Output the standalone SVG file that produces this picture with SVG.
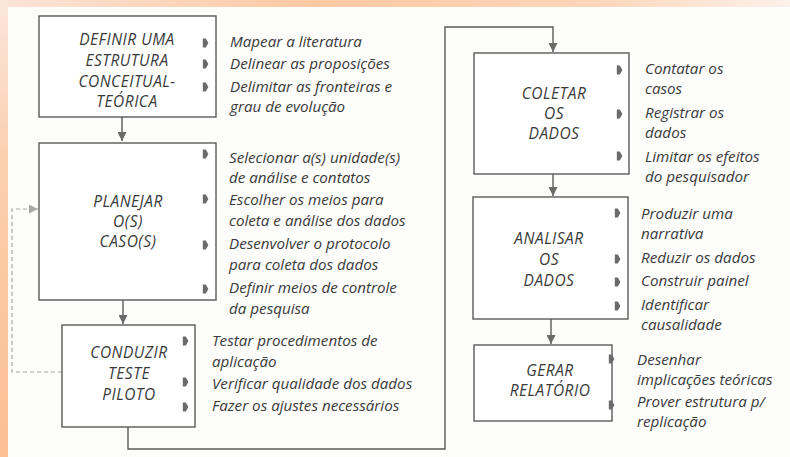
<svg xmlns="http://www.w3.org/2000/svg" width="790" height="457" viewBox="0 0 790 457">
<defs>
<linearGradient id="gTop" x1="0" y1="0" x2="1" y2="0">
<stop offset="0" stop-color="#fbe4d8"/>
<stop offset="0.4" stop-color="#fcc9a2"/>
<stop offset="0.75" stop-color="#fcd6ba"/>
<stop offset="1" stop-color="#fdf1ea"/>
</linearGradient>
<linearGradient id="gLeft" x1="0" y1="0" x2="0" y2="1">
<stop offset="0" stop-color="#fbe6dc"/>
<stop offset="0.35" stop-color="#fbcfae"/>
<stop offset="1" stop-color="#fbbf92"/>
</linearGradient>
<marker id="ah" viewBox="0 0 10 10" refX="10" refY="5" markerWidth="9" markerHeight="9" markerUnits="userSpaceOnUse" orient="auto">
<path d="M0,0 L10,5 L0,10 Z" fill="#6a6a6a"/>
</marker>
<marker id="ahd" viewBox="0 0 10 10" refX="10" refY="5" markerWidth="10" markerHeight="9" markerUnits="userSpaceOnUse" orient="auto">
<path d="M0,0 L10,5 L0,10 Z" fill="#a8a8a8"/>
</marker>
<path id="bul" d="M-2.2,-4.5 L0.8,-4.5 L3.4,0 L0.8,4.5 L-2.2,4.5 Z"/>
</defs>
<style>
.box{fill:#ffffff;stroke:#5a5a5a;stroke-width:1.4}
.lbl{font-family:"Open Sans","Liberation Sans",sans-serif;font-style:italic;font-size:15.5px;letter-spacing:0.5px;fill:#3a3a3a;text-anchor:middle}
.it{font-family:"Open Sans","Liberation Sans",sans-serif;font-style:italic;font-size:15.2px;fill:#3a3a3a}
.b{fill:#6a6a6a}
.con{fill:none;stroke:#5a5a5a;stroke-width:1.4}
.dash{fill:none;stroke:#a8a8a8;stroke-width:1.2;stroke-dasharray:4 3}
</style>
<rect x="0" y="0" width="790" height="457" fill="#fdfdfc"/>
<rect x="0" y="0" width="790" height="7" fill="url(#gTop)"/>
<rect x="0" y="0" width="8" height="457" fill="url(#gLeft)"/>

<g id="connectors">
<path class="con" d="M122,117 V141" marker-end="url(#ah)"/>
<path class="con" d="M123,300 V324" marker-end="url(#ah)"/>
<path class="con" d="M128,427 V449 H445 V27 H553 V52" marker-end="url(#ah)"/>
<path class="con" d="M553,174 V196" marker-end="url(#ah)"/>
<path class="con" d="M551,319 V344" marker-end="url(#ah)"/>
<path class="dash" d="M62,372 H12 V209 H38" marker-end="url(#ahd)"/>
</g>

<g id="definir">
<rect class="box" x="39" y="16" width="177" height="101"/>
<text class="lbl" x="127" y="45">DEFINIR UMA</text>
<text class="lbl" x="127" y="66">ESTRUTURA</text>
<text class="lbl" x="127" y="87">CONCEITUAL-</text>
<text class="lbl" x="127" y="107">TEÓRICA</text>
<use href="#bul" class="b" x="205" y="43"/>
<use href="#bul" class="b" x="205" y="64"/>
<use href="#bul" class="b" x="205" y="87"/>
<text class="it" x="230" y="47">Mapear a literatura</text>
<text class="it" x="230" y="69">Delinear as proposições</text>
<text class="it" x="230" y="92">Delimitar as fronteiras e</text>
<text class="it" x="230" y="112">grau de evolução</text>
</g>

<g id="planejar">
<rect class="box" x="39" y="143" width="177" height="157"/>
<text class="lbl" x="128" y="207">PLANEJAR</text>
<text class="lbl" x="128" y="227">O(S)</text>
<text class="lbl" x="128" y="247">CASO(S)</text>
<use href="#bul" class="b" x="205" y="154"/>
<use href="#bul" class="b" x="205" y="199"/>
<use href="#bul" class="b" x="205" y="245"/>
<use href="#bul" class="b" x="205" y="289"/>
<text class="it" x="229" y="163">Selecionar a(s) unidade(s)</text>
<text class="it" x="229" y="183">de análise e contatos</text>
<text class="it" x="229" y="205">Escolher os meios para</text>
<text class="it" x="229" y="226">coleta e análise dos dados</text>
<text class="it" x="229" y="249">Desenvolver o protocolo</text>
<text class="it" x="229" y="270">para coleta dos dados</text>
<text class="it" x="229" y="293">Definir meios de controle</text>
<text class="it" x="229" y="314">da pesquisa</text>
</g>

<g id="conduzir">
<rect class="box" x="62" y="325" width="133" height="102"/>
<text class="lbl" x="129" y="358">CONDUZIR</text>
<text class="lbl" x="129" y="379">TESTE</text>
<text class="lbl" x="129" y="400">PILOTO</text>
<use href="#bul" class="b" x="185" y="341"/>
<use href="#bul" class="b" x="185" y="382"/>
<use href="#bul" class="b" x="185" y="407"/>
<text class="it" x="212" y="346">Testar procedimentos de</text>
<text class="it" x="212" y="367">aplicação</text>
<text class="it" x="212" y="389">Verificar qualidade dos dados</text>
<text class="it" x="212" y="411">Fazer os ajustes necessários</text>
</g>

<g id="coletar">
<rect class="box" x="474" y="53" width="155" height="121"/>
<text class="lbl" x="554" y="99">COLETAR</text>
<text class="lbl" x="554" y="119">OS</text>
<text class="lbl" x="554" y="139">DADOS</text>
<use href="#bul" class="b" x="619" y="70"/>
<use href="#bul" class="b" x="619" y="114"/>
<use href="#bul" class="b" x="619" y="156"/>
<text class="it" x="645" y="74">Contatar os</text>
<text class="it" x="645" y="94">casos</text>
<text class="it" x="645" y="118">Registrar os</text>
<text class="it" x="645" y="138">dados</text>
<text class="it" x="645" y="162">Limitar os efeitos</text>
<text class="it" x="645" y="182">do pesquisador</text>
</g>

<g id="analisar">
<rect class="box" x="473" y="197" width="155" height="122"/>
<text class="lbl" x="549" y="244">ANALISAR</text>
<text class="lbl" x="549" y="265">OS</text>
<text class="lbl" x="549" y="286">DADOS</text>
<use href="#bul" class="b" x="617" y="213"/>
<use href="#bul" class="b" x="617" y="259"/>
<use href="#bul" class="b" x="617" y="282"/>
<use href="#bul" class="b" x="617" y="306"/>
<text class="it" x="641" y="219">Produzir uma</text>
<text class="it" x="641" y="239">narrativa</text>
<text class="it" x="641" y="263">Reduzir os dados</text>
<text class="it" x="641" y="286">Construir painel</text>
<text class="it" x="641" y="310">Identificar</text>
<text class="it" x="641" y="330">causalidade</text>
</g>

<g id="gerar">
<rect class="box" x="474" y="345" width="138" height="76"/>
<text class="lbl" x="550" y="376">GERAR</text>
<text class="lbl" x="550" y="396">RELATÓRIO</text>
<use href="#bul" class="b" x="611" y="359"/>
<use href="#bul" class="b" x="611" y="405"/>
<text class="it" x="637" y="365">Desenhar</text>
<text class="it" x="637" y="385">implicações teóricas</text>
<text class="it" x="637" y="407">Prover estrutura p/</text>
<text class="it" x="637" y="427">replicação</text>
</g>
</svg>
